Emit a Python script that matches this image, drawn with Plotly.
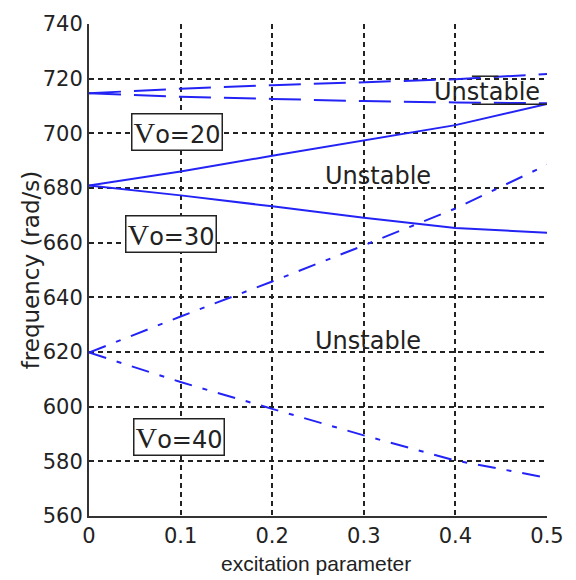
import plotly.graph_objects as go

# data
x_pts = [0, 0.1, 0.2, 0.3, 0.4, 0.5]
vo20_upper = [680.9, 686.0, 691.8, 697.5, 703.0, 710.7]
vo20_lower = [680.9, 677.3, 673.3, 669.1, 665.4, 663.6]
x30 = [0, 0.05, 0.1, 0.2, 0.3, 0.4, 0.5]
vo30_upper = [714.7, 715.6, 716.3, 717.6, 718.6, 719.8, 721.7]
vo30_lower = [714.7, 714.0, 713.4, 712.6, 711.8, 711.3, 711.0]
vo40_upper = [619.8, 633.0, 645.8, 659.0, 672.5, 688.5]
vo40_lower = [619.8, 609.0, 599.2, 589.5, 580.3, 574.0]

x_ticks = [0, 0.1, 0.2, 0.3, 0.4, 0.5]
x_ticktext = ["0", "0.1", "0.2", "0.3", "0.4", "0.5"]
y_ticks = [560, 580, 600, 620, 640, 660, 680, 700, 720, 740]

vo_labels = ["=20", "=30", "=40"]
vo_pos = [(0.096, 700.6), (0.089, 663.3), (0.098, 589.0)]
unstable = [(0.434, 715.1), (0.316, 684.3), (0.305, 624.0)]

BLUE = "#2323f5"
fig = go.Figure()
for ys in (vo20_upper, vo20_lower):
    fig.add_trace(go.Scatter(x=x_pts, y=ys, mode="lines",
                             line=dict(color=BLUE, width=2), showlegend=False))
for ys in (vo30_upper, vo30_lower):
    fig.add_trace(go.Scatter(x=x30, y=ys, mode="lines",
                             line=dict(color=BLUE, width=2, dash="32px,13px"), showlegend=False))
for ys in (vo40_upper, vo40_lower):
    fig.add_trace(go.Scatter(x=x_pts, y=ys, mode="lines",
                             line=dict(color=BLUE, width=2, dash="18px,11px,5px,11px"), showlegend=False))

annos = []
for lab, (lx, ly) in zip(vo_labels, vo_pos):
    annos.append(dict(x=lx, y=ly, xref="x", yref="y", showarrow=False,
                      text=f"<span style='font-family:Liberation Serif;font-size:30px'>V</span>o{lab}",
                      font=dict(family="DejaVu Sans", size=24, color="#222"),
                      bordercolor="#222", borderwidth=1.5, borderpad=1, bgcolor="white"))
for ux, uy in unstable:
    annos.append(dict(x=ux, y=uy, xref="x", yref="y", showarrow=False, text="Unstable",
                      font=dict(family="DejaVu Sans", size=24, color="#222")))
annos.append(dict(x=-0.126, y=0.5, xref="paper", yref="paper", showarrow=False,
                  xanchor="center", yanchor="middle",
                  text="frequency (rad/s)", textangle=-90,
                  font=dict(family="DejaVu Sans", size=23, color="#222")))
annos.append(dict(x=0.495, y=-0.097, xref="paper", yref="paper", showarrow=False,
                  xanchor="center", yanchor="middle",
                  text="excitation parameter",
                  font=dict(family="Liberation Sans", size=21, color="#222")))

fig.update_layout(
    width=576, height=580,
    margin=dict(l=89, r=28, t=19, b=64),
    paper_bgcolor="white", plot_bgcolor="white",
    annotations=annos,
    shapes=[dict(type="line", xref="x", yref="y", x0=0.418, x1=0.447, y0=720.9, y1=720.9,
                 line=dict(color="#222", width=1.5)),
            dict(type="line", xref="x", yref="y", x0=0.418, x1=0.5, y0=710.6, y1=710.6,
                 line=dict(color="#222", width=1.5))],
)
grid = dict(showgrid=True, gridcolor="#222", gridwidth=1.5, griddash="5px,4px",
            showline=True, linecolor="#333", linewidth=2, zeroline=False,
            ticks="", tickfont=dict(family="DejaVu Sans", size=21, color="#222"))
fig.update_xaxes(range=[0, 0.5], tickvals=x_ticks, ticktext=x_ticktext, **grid)
fig.update_yaxes(range=[560, 740], tickvals=y_ticks, **grid)

fig.write_html("out.html")
